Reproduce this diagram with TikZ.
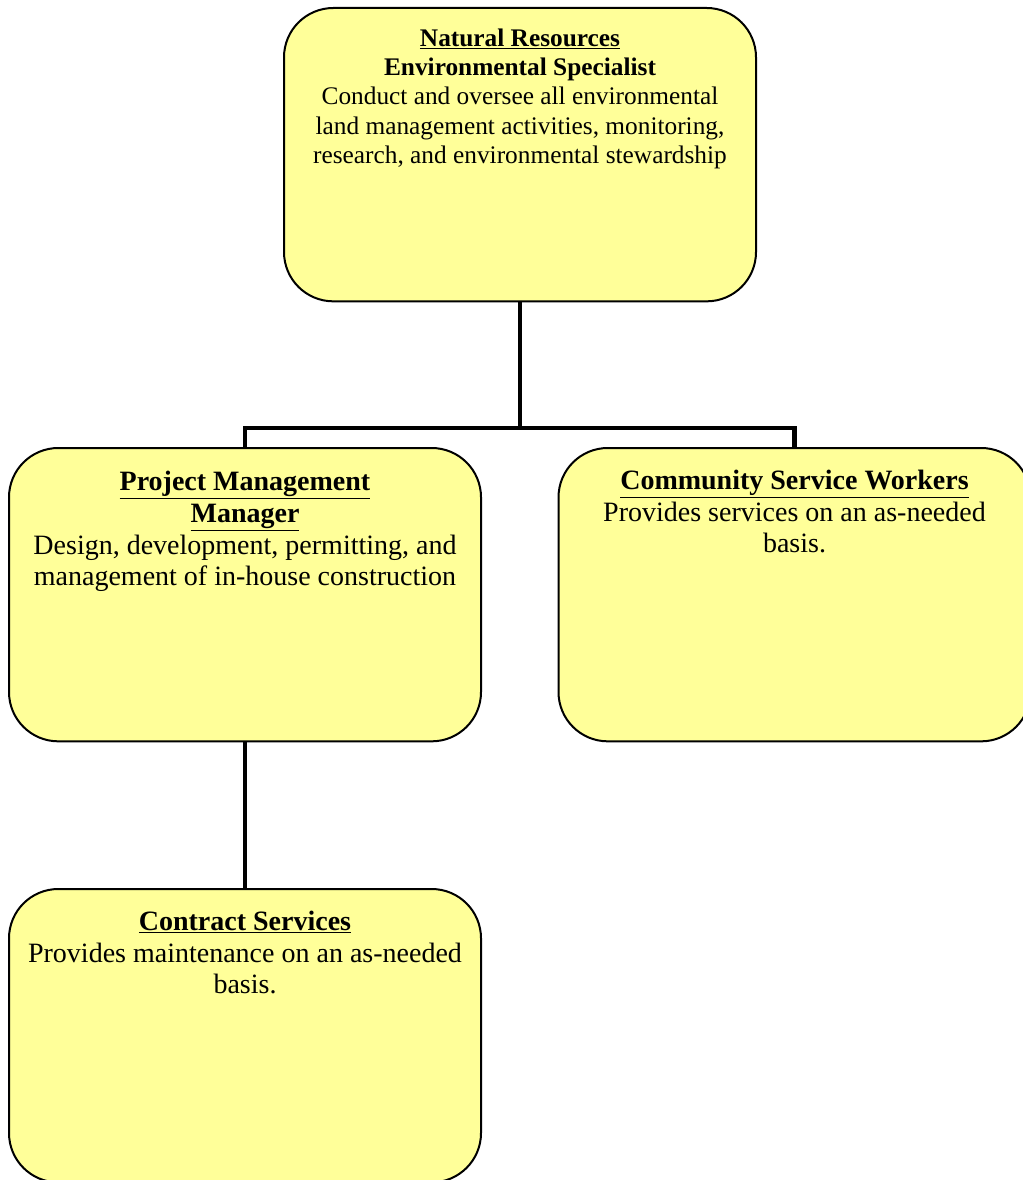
\documentclass[tikz,border=0pt]{standalone}
\usepackage{fontspec}
\setmainfont{Liberation Serif}
\usepackage{xcolor}
\usepackage{tikz}
\usetikzlibrary{positioning}

\definecolor{boxyellow}{RGB}{255,255,153}

\begin{document}
\begin{tikzpicture}[x=0.75pt, y=-0.75pt,
  every node/.style={font=\fontsize{21}{23.8}\selectfont},
  box/.style={draw=black, line width=1.5pt, fill=boxyellow, rounded corners=37pt,
              minimum width=354pt, minimum height=220pt, anchor=north, inner sep=0pt},
  txt/.style={inner sep=0pt, align=center, anchor=north},
  conn/.style={line width=3.6pt, black}]

  \useasboundingbox (0,0) rectangle (1022,1180);

  % boxes
  \node[box] (nr)  at (520,   7) {};
  \node[box] (pm)  at (245, 447) {};
  \node[box] (csw) at (794.5, 447) {};
  \node[box] (cs)  at (245, 888) {};

  % texts at the top of each box
  \node[txt, font=\fontsize{19}{22}\selectfont, below=16pt of nr.north] (nr-t)
    {\textbf{\underline{Natural Resources}}\\
     \textbf{Environmental Specialist}\\
     Conduct and oversee all environmental\\
     land management activities, monitoring,\\
     research, and environmental stewardship};
  \node[txt, below=18pt of pm.north] (pm-t)
    {\textbf{\underline{Project Management}}\\
     \textbf{\underline{Manager}}\\
     Design, development, permitting, and\\
     management of in-house construction};
  \node[txt, below=17pt of csw.north] (csw-t)
    {\textbf{\underline{Community Service Workers}}\\
     Provides services on an as-needed\\
     basis.};
  \node[txt, below=17pt of cs.north] (cs-t)
    {\textbf{\underline{Contract Services}}\\
     Provides maintenance on an as-needed\\
     basis.};

  % connectors
  \coordinate (split) at (520,428);
  \draw[conn] (nr.south) -- (split);
  \draw[conn] (pm.north) |- (split) -| (csw.north);
  \draw[conn] (pm.south) -- (cs.north);
\end{tikzpicture}
\end{document}
